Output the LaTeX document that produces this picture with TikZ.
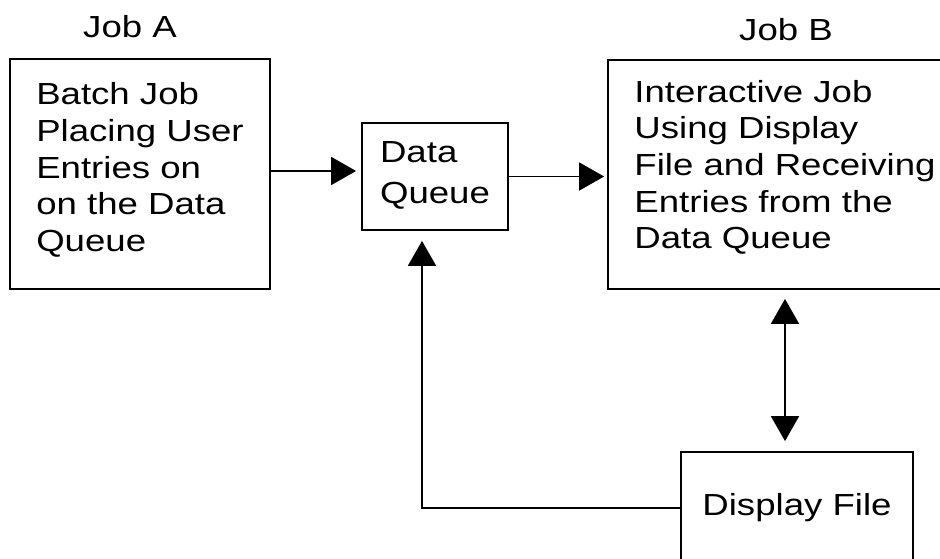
\documentclass[tikz,border=0pt]{standalone}
\usepackage{fontspec}
\setmainfont[FakeStretch=1.2]{Liberation Sans}
\usetikzlibrary{arrows.meta}

\newcommand{\lowstrut}[1]{\rule[-#1]{0pt}{#1}}

\begin{document}
\begin{tikzpicture}[x=1pt, y=-1pt, line width=1.8pt, font=\fontsize{30.5}{36.7}\selectfont]

\tikzstyle{box}=[draw, rectangle, align=left, inner sep=0pt]
\tikzstyle{flow}=[-{Triangle[length=25pt,width=28pt]}]

\clip (0,0) rectangle (940,559);

\node (labelA) at (130,27) {Job A}; \node (labelB) at (786,30) {Job B};

\node[box, minimum width=260pt, minimum height=230pt] (jobA) at (140,174) {Batch Job\\Placing User\\Entries on\\on the Data\\Queue\lowstrut{14pt}};
\node[box, minimum width=146pt, minimum height=107pt] (queue) at (435,176.5) {Data\\[5pt]Queue\lowstrut{8pt}};
\node[box, minimum width=354pt, minimum height=229pt] (jobB) at (785,174.5) {Interactive Job\\Using Display\\File and Receiving\\Entries from the\\Data Queue\lowstrut{20pt}};
\node[box, minimum width=232pt, minimum height=112pt] (display) at (797,508) {Display File};

\draw[flow, shorten >=5pt] ([yshift=3pt]jobA.east) -- ([yshift=3pt]jobA.east -| queue.west);
\draw[flow, shorten >=3pt] (queue.east) -- (queue.east -| jobB.west);
\draw[{Triangle[length=25pt,width=28pt]}-{Triangle[length=25pt,width=28pt]}, shorten <=9pt, shorten >=10pt] (jobB.south) -- (jobB.south |- display.north);
\draw[flow, shorten >=10pt] (display.west) -| ([xshift=-13pt]queue.south);

\end{tikzpicture}
\end{document}
